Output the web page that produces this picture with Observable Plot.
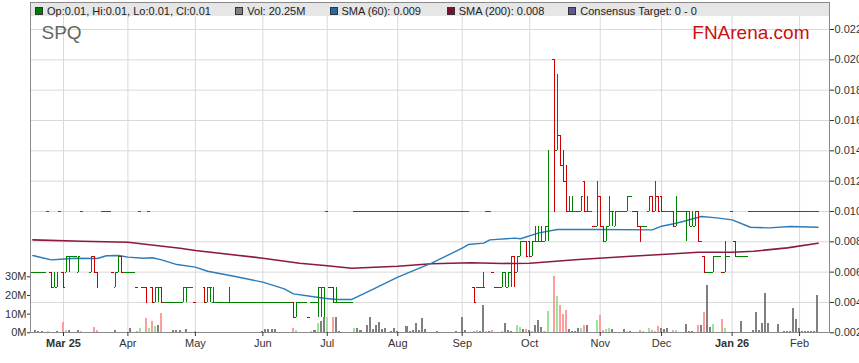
<!DOCTYPE html>
<html><head><meta charset="utf-8">
<script src="https://cdn.jsdelivr.net/npm/d3@7"></script>
<script src="https://cdn.jsdelivr.net/npm/@observablehq/plot@0.6"></script>
<style>
html,body{margin:0;padding:0;background:#fff;}
#wrap{position:relative;width:859px;height:363px;overflow:hidden;font-family:"Liberation Sans",Arial,sans-serif;}
#wrap > svg{position:absolute;left:0;top:0;}
.hdr{position:absolute;left:31px;top:3px;width:798px;height:13px;background:#e6e6e6;}
.lg{position:absolute;top:4px;font-size:11px;line-height:14px;color:#222;white-space:nowrap;}
.sq{position:absolute;top:7px;width:6px;height:6px;border:1px solid #333;}
</style></head><body><div id="wrap"></div>
<script>
// ---------- DATA ----------
const dates = [
"2025-02-17","2025-02-18","2025-02-19","2025-02-20","2025-02-21",
"2025-02-24","2025-02-25","2025-02-26","2025-02-27","2025-02-28",
"2025-03-03","2025-03-04","2025-03-05","2025-03-06","2025-03-07",
"2025-03-10","2025-03-11","2025-03-12","2025-03-13","2025-03-14",
"2025-03-17","2025-03-18","2025-03-19","2025-03-20","2025-03-21",
"2025-03-24","2025-03-25","2025-03-26","2025-03-27","2025-03-28",
"2025-03-31","2025-04-01","2025-04-02","2025-04-03","2025-04-04",
"2025-04-07","2025-04-08","2025-04-09","2025-04-10","2025-04-11",
"2025-04-14","2025-04-15","2025-04-16","2025-04-17","2025-04-18",
"2025-04-21","2025-04-22","2025-04-23","2025-04-24","2025-04-25",
"2025-04-28","2025-04-29","2025-04-30","2025-05-01","2025-05-02",
"2025-05-05","2025-05-06","2025-05-07","2025-05-08","2025-05-09",
"2025-05-12","2025-05-13","2025-05-14","2025-05-15","2025-05-16",
"2025-05-19","2025-05-20","2025-05-21","2025-05-22","2025-05-23",
"2025-05-26","2025-05-27","2025-05-28","2025-05-29","2025-05-30",
"2025-06-02","2025-06-03","2025-06-04","2025-06-05","2025-06-06",
"2025-06-09","2025-06-10","2025-06-11","2025-06-12","2025-06-13",
"2025-06-16","2025-06-17","2025-06-18","2025-06-19","2025-06-20",
"2025-06-23","2025-06-24","2025-06-25","2025-06-26","2025-06-27",
"2025-06-30","2025-07-01","2025-07-02","2025-07-03","2025-07-04",
"2025-07-07","2025-07-08","2025-07-09","2025-07-10","2025-07-11",
"2025-07-14","2025-07-15","2025-07-16","2025-07-17","2025-07-18",
"2025-07-21","2025-07-22","2025-07-23","2025-07-24","2025-07-25",
"2025-07-28","2025-07-29","2025-07-30","2025-07-31","2025-08-01",
"2025-08-04","2025-08-05","2025-08-06","2025-08-07","2025-08-08",
"2025-08-11","2025-08-12","2025-08-13","2025-08-14","2025-08-15",
"2025-08-18","2025-08-19","2025-08-20","2025-08-21","2025-08-22",
"2025-08-25","2025-08-26","2025-08-27","2025-08-28","2025-08-29",
"2025-09-01","2025-09-02","2025-09-03","2025-09-04","2025-09-05",
"2025-09-08","2025-09-09","2025-09-10","2025-09-11","2025-09-12",
"2025-09-15","2025-09-16","2025-09-17","2025-09-18","2025-09-19",
"2025-09-22","2025-09-23","2025-09-24","2025-09-25","2025-09-26",
"2025-09-29","2025-09-30","2025-10-01","2025-10-02","2025-10-03",
"2025-10-06","2025-10-07","2025-10-08","2025-10-09","2025-10-10",
"2025-10-13","2025-10-14","2025-10-15","2025-10-16","2025-10-17",
"2025-10-20","2025-10-21","2025-10-22","2025-10-23","2025-10-24",
"2025-10-27","2025-10-28","2025-10-29","2025-10-30","2025-10-31",
"2025-11-03","2025-11-04","2025-11-05","2025-11-06","2025-11-07",
"2025-11-10","2025-11-11","2025-11-12","2025-11-13","2025-11-14",
"2025-11-17","2025-11-18","2025-11-19","2025-11-20","2025-11-21",
"2025-11-24","2025-11-25","2025-11-26","2025-11-27","2025-11-28",
"2025-12-01","2025-12-02","2025-12-03","2025-12-04","2025-12-05",
"2025-12-08","2025-12-09","2025-12-10","2025-12-11","2025-12-12",
"2025-12-15","2025-12-16","2025-12-17","2025-12-18","2025-12-19",
"2025-12-22","2025-12-23","2025-12-24","2025-12-25","2025-12-26",
"2025-12-29","2025-12-30","2025-12-31","2026-01-01","2026-01-02",
"2026-01-05","2026-01-06","2026-01-07","2026-01-08","2026-01-09",
"2026-01-12","2026-01-13","2026-01-14","2026-01-15","2026-01-16",
"2026-01-19","2026-01-20","2026-01-21","2026-01-22","2026-01-23",
"2026-01-26","2026-01-27","2026-01-28","2026-01-29","2026-01-30",
"2026-02-02","2026-02-03","2026-02-04","2026-02-05","2026-02-06",
"2026-02-09","2026-02-10"];

const open = [
.006,.006,.006,.006,.006, .010,.006,.005,.005,.010, .006,.006,.007,.007,.007, .006,.010,null,null,.006,
.007,.006,null,.010,.010, .010,.006,.005,.006,.007, .006,.006,.006,.006,.005, .010,.005,.005,.010,.005,
.004,.005,.005,.004,.004, .004,.004,.004,.004,.004, .005,.005,.005,.004,null, null,.005,.004,.005,.004,
.004,.004,.004,.004,.004, .004,.004,.004,.004,.004, .004,.004,.004,.004,.004, .004,.004,.004,.004,.004,
.004,.004,.004,.004,.004, .004,.003,.004,.004,.004, .003,.004,.004,.004,.005, .005,.010,.005,.005,.004,
.004,.004,.004,.004,.004,
.010,.010,.010,.010,.010, .010,.010,.010,.010,.010, .010,.010,.010,.010,.010, .010,.010,.010,.010,.010,
.010,.010,.010,.010,.010, .010,.010,.010,.010,.010, .010,.010,.010,.010,.010,
.010,.010,.010,null,.005, .005,.005,.005,.010,.010, .006,.005,.005,.005,.006, .005,.006,.007,.006,.007,
.008,.008,.008,.007,.008, .008,.008,.008,.009,null, .020,.014,.015,.013,.012, .010,.010,.010,.010,.010,
.012,.010,.010,.009,.009, .011,.009,.008,.009,.010, .009,.010,.010,.010,.010, .011,.010,.010,.009,.009,
.009,.010,.011,.010,.011, .011,.010,.010,.010,.010, .009,.010,.010,.010,.010, .009,.009,.010,.008,.007,
.006,.006,.006,.007,.007, .006,.006,.007,.010,.008, .007,.007,.007,.007,.010,
.010,.010,.010,.010,.010, .010,.010,.010,.010,.010, .010,.010,.010,.010,.010, .010,.010,.010,.010,.010,
.010,.010];

const high = [
.006,.006,.006,.006,.006, .010,.006,.006,.006,.010, .006,.007,.007,.007,.007, .007,.010,null,null,.007,
.007,.006,null,.010,.010, .010,.006,.006,.007,.007, .006,.006,.006,.006,.005, .010,.005,.005,.010,.005,
.005,.005,.005,.004,.004, .004,.004,.004,.004,.005, .005,.005,.005,.004,null, null,.005,.005,.005,.005,
.004,.004,.004,.004,.005, .004,.004,.004,.004,.004, .004,.004,.004,.004,.004, .004,.004,.004,.004,.004,
.004,.004,.004,.004,.004, .004,.004,.004,.004,.004, .003,.004,.004,.005,.005, .005,.010,.005,.005,.005,
.004,.004,.004,.004,.004,
.010,.010,.010,.010,.010, .010,.010,.010,.010,.010, .010,.010,.010,.010,.010, .010,.010,.010,.010,.010,
.010,.010,.010,.010,.010, .010,.010,.010,.010,.010, .010,.010,.010,.010,.010,
.010,.010,.010,null,.005, .005,.005,.006,.010,.010, .006,.005,.005,.006,.006, .006,.007,.007,.007,.008,
.008,.008,.008,.008,.009, .009,.009,.009,.014,null, .020,.019,.015,.014,.013, .011,.011,.010,.010,.011,
.012,.011,.010,.009,.012, .011,.009,.009,.011,.010, .010,.010,.010,.010,.011, .011,.010,.010,.009,.009,
.009,.011,.011,.012,.011, .011,.010,.010,.010,.010, .011,.010,.010,.010,.010, .010,.010,.010,.008,.007,
.006,.006,.007,.007,.007, .006,.008,.007,.010,.008, .007,.007,.007,.007,.010,
.010,.010,.010,.010,.010, .010,.010,.010,.010,.010, .010,.010,.010,.010,.010, .010,.010,.010,.010,.010,
.010,.010];

const low = [
.006,.006,.006,.006,.006, .010,.005,.005,.005,.010, .005,.006,.006,.007,.007, .006,.010,null,null,.006,
.006,.005,null,.010,.010, .010,.006,.005,.006,.006, .006,.006,.006,.006,.005, .010,.005,.004,.010,.004,
.004,.004,.004,.004,.004, .004,.004,.004,.004,.004, .004,.005,.005,.004,null, null,.004,.004,.004,.004,
.004,.004,.004,.004,.004, .004,.004,.004,.004,.004, .004,.004,.004,.004,.004, .004,.004,.004,.004,.004,
.004,.004,.004,.004,.004, .003,.003,.004,.004,.004, .003,.004,.004,.003,.003, .003,.010,.005,.004,.004,
.004,.004,.004,.004,.004,
.010,.010,.010,.010,.010, .010,.010,.010,.010,.010, .010,.010,.010,.010,.010, .010,.010,.010,.010,.010,
.010,.010,.010,.010,.010, .010,.010,.010,.010,.010, .010,.010,.010,.010,.010,
.010,.010,.010,null,.004, .005,.005,.005,.010,.010, .006,.005,.005,.005,.005, .005,.005,.005,.006,.007,
.008,.007,.007,.007,.008, .008,.008,.008,.008,null, .010,.014,.013,.012,.010, .010,.010,.010,.010,.010,
.010,.010,.010,.009,.009, .009,.008,.008,.009,.009, .009,.010,.010,.010,.010, .011,.010,.009,.008,.009,
.009,.010,.010,.010,.010, .010,.010,.010,.010,.009, .009,.010,.010,.008,.009, .009,.009,.008,.008,.006,
.006,.006,.006,.007,.007, .006,.006,.007,.010,.007, .007,.007,.007,.007,.010,
.010,.010,.010,.010,.010, .010,.010,.010,.010,.010, .010,.010,.010,.010,.010, .010,.010,.010,.010,.010,
.010,.010];

const close = [
.006,.006,.006,.006,.006, .010,.005,.006,.006,.010, .005,.007,.007,.007,.007, .007,.010,null,null,.007,
.006,.005,null,.010,.010, .010,.006,.006,.007,.006, .006,.006,.006,.006,.005, .010,.005,.004,.010,.004,
.005,.005,.004,.004,.004, .004,.004,.004,.004,.005, .005,.005,.005,.004,null, null,.004,.005,.005,.004,
.004,.004,.004,.004,.004, .004,.004,.004,.004,.004, .004,.004,.004,.004,.004, .004,.004,.004,.004,.004,
.004,.004,.004,.004,.004, .003,.004,.004,.004,.004, .003,.004,.004,.005,.005, .005,.010,.005,.004,.004,
.004,.004,.004,.004,.004,
.010,.010,.010,.010,.010, .010,.010,.010,.010,.010, .010,.010,.010,.010,.010, .010,.010,.010,.010,.010,
.010,.010,.010,.010,.010, .010,.010,.010,.010,.010, .010,.010,.010,.010,.010,
.010,.010,.010,null,.004, .005,.005,.005,.010,.010, .006,.005,.005,.006,.006, .006,.006,.006,.007,.008,
.008,.007,.007,.008,.008, .008,.008,.009,.012,null, .010,.016,.013,.012,.010, .010,.010,.010,.010,.011,
.010,.010,.010,.009,.010, .009,.008,.009,.010,.010, .010,.010,.010,.010,.011, .011,.010,.009,.008,.009,
.009,.011,.010,.011,.010, .010,.010,.010,.010,.009, .010,.010,.010,.010,.010, .010,.010,.008,.008,.006,
.006,.006,.007,.007,.007, .006,.007,.007,.010,.007, .007,.007,.007,.007,.010,
.010,.010,.010,.010,.010, .010,.010,.010,.010,.010, .010,.010,.010,.010,.010, .010,.010,.010,.010,.010,
.010,.010];

// volume in millions of shares
const volume = [
0,1.0,0.8,0.6,0, 0.5,0.4,0.3,0.5,0, 5.7,1.2,1.2,0,0, 1.2,0.5,0,0.4,0,
3.0,1.4,0,0.4,0, 0,0,1.2,0,0, 0,0,2.3,0,0.9, 2.3,0,7.7,2.3,6.2,
3.6,3.9,10.4,0,0, 0,1.4,1.4,1.4,0, 1.8,0,0,0.7,0, 0,0,0,0,0,
0.4,0,0,0,0, 0,0,0,0.4,0, 0,0,0,0,0, 0.9,1.8,1.8,1.8,1.8,
0.4,0,0,0,0, 2.3,1.0,0,0,0, 0,0.9,1.0,5.0,6.2, 8.0,8.4,0,8.4,8.4,
0.7,0,0,0,0, 2.3,2.3,1.0,0,3.9, 8.2,1.8,3.9,5.4,1.8, 2.3,0,0.7,2.3,0.5,
0,0,3.2,0.7,1.0, 4.8,1.4,7.5,1.8,0, 0,0,0.9,0,0, 0,0,0,0.5,0,
8.0,1.0,0,0,0.7, 1.2,0.7,14.6,0.5,0.5, 1.0,0,0,0.5,5.0, 1.4,0.5,0,3.9,2.7,
1.8,1.8,1.0,0.5,4.0, 6.6,2.7,0.9,11.4,0, 30.4,19.6,14.6,9.8,11.8, 1.8,0.7,0.7,2.1,2.5,
3.9,3.9,0,0,6.6, 9.3,1.4,1.8,2.1,1.6, 0,0,0,1.6,0.5, 0.5,0,0,1.2,0.9,
0,2.5,1.4,0.9,3.6, 2.5,1.8,2.3,0,1.4, 1.4,0,0,4.5,0.5, 0.5,0,3.9,3.9,10.7,
25.4,2.7,4.5,0,0, 7.1,2.3,0,0.3,0.3, 0,5.9,0,0,0, 1.1,11.0,1.4,4.8,21.0,
4.8,0,0,4.5,0, 0.6,0.6,0.6,12.9,7.1, 2.3,0.6,0.9,0.5,0.7, 0.6,20.25];

const sma60Dates = ["2025-02-17","2025-02-20","2025-02-25","2025-02-28","2025-03-07","2025-03-18","2025-03-21","2025-03-27",
"2025-04-01","2025-04-08","2025-04-11","2025-04-16","2025-04-23","2025-05-01","2025-05-07","2025-05-20","2025-06-02",
"2025-06-11","2025-06-16","2025-06-24","2025-06-30","2025-07-04","2025-07-11","2025-07-21","2025-08-01","2025-08-18",
"2025-09-01","2025-09-03","2025-09-10","2025-09-12","2025-09-24","2025-09-26","2025-10-06","2025-10-14","2025-11-03",
"2025-11-26","2025-12-01","2025-12-05","2025-12-10","2025-12-18","2025-12-25","2026-01-01","2026-01-09","2026-01-19",
"2026-01-28","2026-02-10"];
const sma60Values = [.00710,.00695,.00681,.00685,.00692,.00690,.00708,.00710,
.00699,.00692,.00695,.00681,.00650,.00633,.00606,.00571,.00534,
.00490,.00457,.00439,.00428,.00420,.00420,.00478,.00567,.00659,
.00758,.00782,.00791,.00813,.00824,.00820,.00859,.00881,.00881,
.00879,.00903,.00919,.00934,.00967,.00958,.00945,.00896,.00892,
.00901,.00896];

const sma200Dates = ["2025-02-17","2025-03-11","2025-04-01","2025-04-24","2025-05-01","2025-06-02","2025-06-18","2025-07-01",
"2025-07-11","2025-08-01","2025-08-18","2025-09-04","2025-09-18","2025-10-01","2025-10-23","2025-11-17","2025-12-01",
"2025-12-17","2026-01-01","2026-01-12","2026-01-27","2026-02-10"];
const sma200Values = [.00813,.00804,.00797,.00758,.00743,.00692,.00659,.00642,
.00626,.00639,.00655,.00662,.00657,.00659,.00683,.00705,.00716,
.00731,.00731,.00738,.00760,.00791];

const priceTicks = [0.002,0.004,0.006,0.008,0.010,0.012,0.014,0.016,0.018,0.020,0.022];
const volumeTicks = [0,10,20,30];
const ticker = "SPQ";
const brand = "FNArena.com";
const consensusText = "Consensus Target: 0 - 0";

// ---------- DERIVED ----------
const GREEN="#008000", RED="#cc0000", VGREY="#808080", VRED="#ff9c9c", VGREEN="#99e699";
const FONT='"Liberation Sans", Arial, sans-serif';
const idx = new Map(dates.map((d,i)=>[d,i]));

const bars=[]; const vols=[];
let prevC=null;
dates.forEach((d,i)=>{
  const c=close[i], o=open[i], h=high[i], l=low[i];
  let vcol=VGREY;
  if(c!=null){
    if(prevC!=null){ if(c>prevC) vcol=VGREEN; else if(c<prevC) vcol=VRED; }
    let col;
    if(c>o) col=GREEN; else if(c<o) col=RED; else if(h>l) col=GREEN;
    else col=(prevC!=null && c<prevC)?RED:GREEN;
    bars.push({i,o,h,l,c,col});
  }
  if(volume[i]>0) vols.push({i,v:volume[i],col:vcol});
  if(c!=null) prevC=c;
});
const sma60 = sma60Dates.map((d,k)=>({i:idx.get(d), v:sma60Values[k]}));
const sma200 = sma200Dates.map((d,k)=>({i:idx.get(d), v:sma200Values[k]}));

const monthNames=["Jan","Feb","Mar","Apr","May","Jun","Jul","Aug","Sep","Oct","Nov","Dec"];
const monthIdx = dates.map((d,i)=>i).filter(i=>i>0 && dates[i].slice(5,7)!==dates[i-1].slice(5,7));
const labelOf=new Map(); const boldTicks=[]; const normalTicks=[];
monthIdx.forEach((i,k)=>{
  const m=+dates[i].slice(5,7), nm=monthNames[m-1];
  if(k===0 || m===1){ labelOf.set(i, nm+" "+dates[i].slice(2,4)); boldTicks.push(i); }
  else { labelOf.set(i, nm); normalTicks.push(i); }
});

// ---------- PLOTS ----------
const common={width:859,height:363,marginLeft:30,marginRight:30,marginTop:2,marginBottom:31,
  style:{background:"transparent",fontFamily:FONT,fontSize:"11px",color:"#333"}};
const xOpt={domain:[-0.76,259.76],range:[30,829]};
const yPrice={domain:[0.002,0.022],range:[332.3,29]};

const gridPlot=Plot.plot({...common,
  x:{...xOpt,axis:null}, y:{...yPrice,axis:null},
  marks:[
    Plot.ruleY(priceTicks.slice(1),{stroke:"#d9d9d9"}),
    Plot.ruleX(monthIdx,{stroke:"#d9d9d9"})
  ]});

const volPlot=Plot.plot({...common,
  x:{...xOpt,axis:null}, y:{domain:[0,30],range:[332.3,276.3],axis:null},
  color:{type:"identity"},
  marks:[
    Plot.rect(vols,{x1:d=>d.i-0.33,x2:d=>d.i+0.33,y1:d=>0,y2:"v",fill:"col",shapeRendering:"crispEdges"}),
    Plot.axisY({anchor:"left",ticks:volumeTicks,tickFormat:d=>d+"M",tickSize:3,tickPadding:1,label:null,color:"#333"})
  ]});

const pricePlot=Plot.plot({...common,
  x:{...xOpt}, y:{...yPrice}, color:{type:"identity"},
  marks:[
    Plot.frame({stroke:"#8a8a8a"}),
    Plot.line(sma200,{x:"i",y:"v",stroke:"#8b1a3e",strokeWidth:1.6}),
    Plot.line(sma60,{x:"i",y:"v",stroke:"#2b7bba",strokeWidth:1.4}),
    Plot.ruleX(bars,{x:"i",y1:"l",y2:"h",stroke:"col",shapeRendering:"crispEdges"}),
    Plot.ruleY(bars,{x1:d=>d.i-0.5,x2:"i",y:"o",stroke:"col",shapeRendering:"crispEdges"}),
    Plot.ruleY(bars,{x1:"i",x2:d=>d.i+0.5,y:"c",stroke:"col",shapeRendering:"crispEdges"}),
    Plot.axisY({anchor:"right",ticks:priceTicks,tickFormat:d3.format(".3f"),tickSize:4,tickPadding:1,label:null,color:"#333"}),
    Plot.axisX({ticks:normalTicks,tickFormat:i=>labelOf.get(i),tickSize:4,tickPadding:3,label:null,color:"#333"}),
    Plot.axisX({ticks:boldTicks,tickFormat:i=>labelOf.get(i),tickSize:4,tickPadding:3,label:null,color:"#333",fontWeight:"bold"}),
    Plot.text([ticker],{text:d=>d,frameAnchor:"top-left",textAnchor:"start",lineAnchor:"top",dx:11,dy:23,fontSize:19,fill:"#666"}),
    Plot.text([brand],{text:d=>d,frameAnchor:"top-right",textAnchor:"end",lineAnchor:"top",dx:-20,dy:23,fontSize:19,fill:"#cc1111"})
  ]});

const wrap=document.getElementById("wrap");
wrap.appendChild(gridPlot);
wrap.appendChild(volPlot);
wrap.appendChild(pricePlot);

// header legend band
const hdr=document.createElement("div"); hdr.className="hdr"; wrap.appendChild(hdr);
const last=dates.length-1;
const f2=v=>v.toFixed(2);
const items=[
  {x:35, color:"#008000", text:`Op:${f2(open[last])}, Hi:${f2(high[last])}, Lo:${f2(low[last])}, Cl:${f2(close[last])}`},
  {x:235.3, color:"#808080", text:`Vol: ${volume[last].toFixed(2)}M`},
  {x:329.5, color:"#1f6aa8", text:`SMA (60): ${sma60Values[sma60Values.length-1].toFixed(3)}`},
  {x:446.7, color:"#7d1030", text:`SMA (200): ${sma200Values[sma200Values.length-1].toFixed(3)}`},
  {x:568.3, color:"#5a5a8c", text:consensusText}
];
items.forEach(it=>{
  const s=document.createElement("div"); s.className="sq"; s.style.left=it.x+"px"; s.style.background=it.color; wrap.appendChild(s);
  const t=document.createElement("div"); t.className="lg"; t.style.left=(it.x+12)+"px"; t.textContent=it.text; wrap.appendChild(t);
});
</script></body></html>
